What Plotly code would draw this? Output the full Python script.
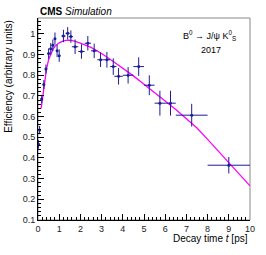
import plotly.graph_objects as go

# Binned efficiency points
t_center = [0.025, 0.075, 0.175, 0.275, 0.375, 0.5, 0.6, 0.7, 0.8, 0.9, 1.0,
            1.2, 1.4, 1.55, 1.75, 2.05, 2.35, 2.65, 2.95, 3.25, 3.55, 3.8,
            4.25, 4.75, 5.25, 5.75, 6.25, 7.25, 9.0]
t_halfwidth = [0.025, 0.025, 0.05, 0.05, 0.05, 0.05, 0.05, 0.05, 0.05, 0.05, 0.05,
               0.1, 0.1, 0.1, 0.15, 0.15, 0.15, 0.15, 0.15, 0.15, 0.15, 0.2,
               0.25, 0.25, 0.25, 0.25, 0.25, 0.75, 1.0]
efficiency = [0.466, 0.535, 0.685, 0.755, 0.83, 0.905, 0.928, 0.945, 0.977, 0.918, 0.895,
              0.99, 1.003, 0.987, 0.938, 0.915, 0.955, 0.918, 0.875, 0.875, 0.842, 0.795,
              0.80, 0.842, 0.752, 0.665, 0.665, 0.607, 0.365]
eff_err = [0.02, 0.02, 0.02, 0.022, 0.022, 0.025, 0.028, 0.028, 0.03, 0.03, 0.03,
           0.03, 0.03, 0.03, 0.035, 0.035, 0.035, 0.035, 0.035, 0.038, 0.04, 0.04,
           0.04, 0.045, 0.048, 0.06, 0.06, 0.055, 0.04]

# Fitted efficiency curve
fit_t = [0.15, 0.2, 0.3, 0.4, 0.5, 0.6, 0.7, 0.8, 1.0, 1.2, 1.4, 1.6, 1.8, 2.0, 2.5,
         3.0, 3.5, 4.0, 4.5, 5.0, 5.5, 6.0, 6.5, 7.0, 7.5, 8.0, 8.5, 9.0, 9.5, 10.0]
fit_eff = [0.64, 0.68, 0.765, 0.83, 0.875, 0.905, 0.925, 0.94, 0.957, 0.966, 0.97, 0.969,
           0.963, 0.955, 0.935, 0.905, 0.87, 0.835, 0.797, 0.757, 0.717, 0.677, 0.635,
           0.59, 0.545, 0.49, 0.435, 0.375, 0.32, 0.265]

x_ticks = [0, 1, 2, 3, 4, 5, 6, 7, 8, 9, 10]
y_ticks = [0.1, 0.2, 0.3, 0.4, 0.5, 0.6, 0.7, 0.8, 0.9, 1.0]
y_tick_labels = ["0.1", "0.2", "0.3", "0.4", "0.5", "0.6", "0.7", "0.8", "0.9", "1"]

FONT = "Liberation Sans, Arial, sans-serif"
DATA_COLOR = "#1c1c96"

fig = go.Figure()
fig.add_trace(go.Scatter(
    x=fit_t, y=fit_eff, mode="lines",
    line=dict(color="#ff00ff", width=1.3), hoverinfo="skip", showlegend=False))
fig.add_trace(go.Scatter(
    x=t_center, y=efficiency, mode="markers",
    marker=dict(color=DATA_COLOR, size=3),
    error_x=dict(type="data", array=t_halfwidth, color=DATA_COLOR, thickness=1, width=0),
    error_y=dict(type="data", array=eff_err, color=DATA_COLOR, thickness=1, width=0),
    showlegend=False))

axis_common = dict(
    showgrid=False, zeroline=False, showline=True, linecolor="black", linewidth=1,
    ticks="inside", ticklen=6, tickwidth=1, tickcolor="black",
    tickfont=dict(family=FONT, size=9, color="#222"),
)

fig.update_xaxes(
    range=[0, 10], tickvals=x_ticks, ticktext=[str(v) for v in x_ticks],
    minor=dict(ticks="inside", ticklen=3, dtick=0.2, tick0=0, tickcolor="black"),
    **axis_common)
fig.update_yaxes(
    range=[0.1, 1.077], tickvals=y_ticks, ticktext=y_tick_labels,
    minor=dict(ticks="inside", ticklen=3, dtick=0.02, tick0=0.1, tickcolor="black"),
    **axis_common)

fig.add_shape(type="rect", xref="paper", yref="paper", x0=0, x1=1, y0=0, y1=1,
              line=dict(color="#888", width=1), layer="below")

annotations = [
    dict(text="<b>CMS</b> <i>Simulation</i>", x=0, y=1, xref="paper", yref="paper",
         xanchor="left", yanchor="bottom", showarrow=False,
         font=dict(family=FONT, size=10, color="black"), yshift=-1),
    dict(text="B<sup>0</sup> → J/ψ K<sup>0</sup><sub>S</sub>", x=0.945, y=0.915,
         xref="paper", yref="paper", xanchor="right", yanchor="middle", showarrow=False,
         font=dict(family=FONT, size=9, color="black")),
    dict(text="2017", x=0.815, y=0.84, xref="paper", yref="paper",
         xanchor="center", yanchor="middle", showarrow=False,
         font=dict(family=FONT, size=9, color="black")),
    dict(text="Efficiency (arbitrary units)", x=-0.14, y=1, xref="paper", yref="paper",
         xanchor="center", yanchor="top", textangle=-90, showarrow=False,
         font=dict(family=FONT, size=10, color="black")),
    dict(text="Decay time <i>t</i> [ps]", x=1, y=-0.09, xref="paper", yref="paper",
         xanchor="right", yanchor="middle", showarrow=False,
         font=dict(family=FONT, size=10, color="black")),
]

fig.update_layout(
    width=266, height=255,
    margin=dict(l=38, r=16, t=18, b=35),
    paper_bgcolor="white", plot_bgcolor="white",
    annotations=annotations,
)

fig.write_html("out.html", config={"displayModeBar": False},
               post_script="document.body.style.margin='0';")
